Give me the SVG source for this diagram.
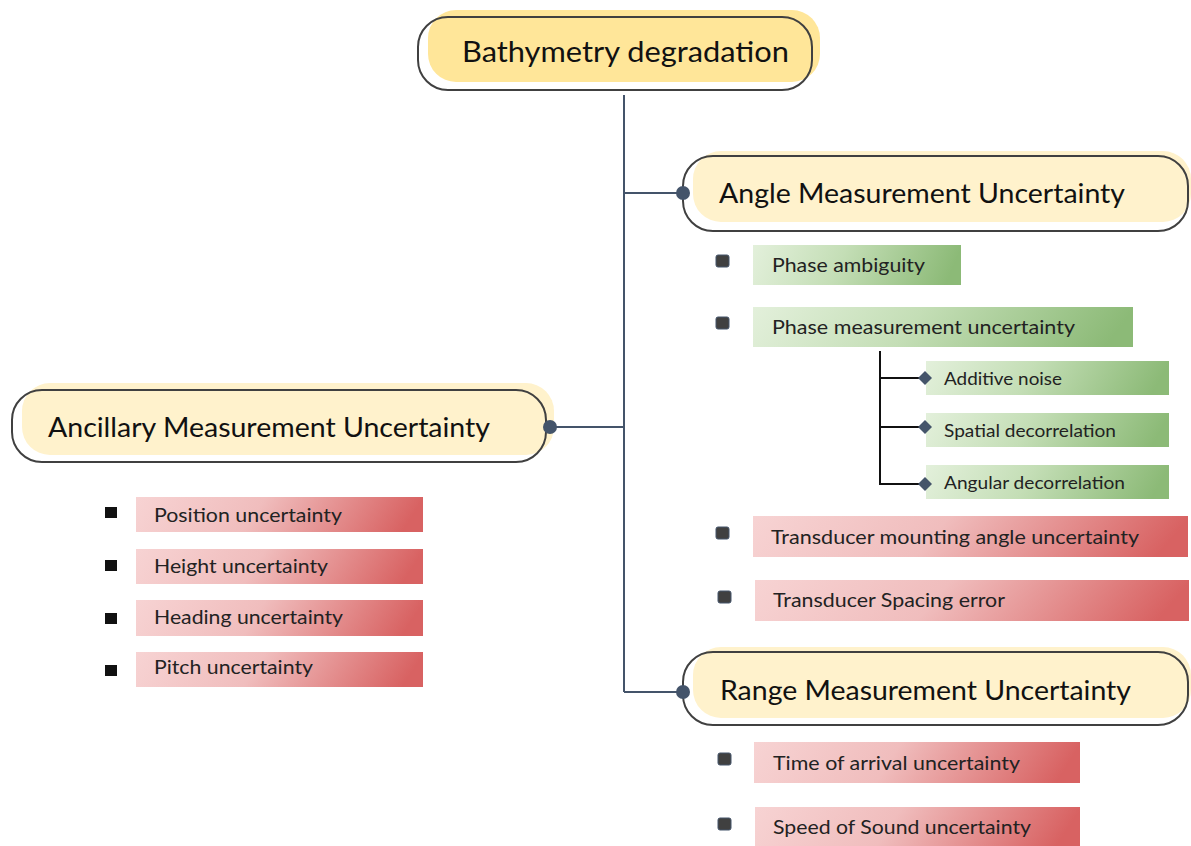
<svg xmlns="http://www.w3.org/2000/svg" width="1191" height="846" viewBox="0 0 1191 846">
<defs>
<linearGradient id="gRed" x1="0" y1="0" x2="1" y2="0.08">
<stop offset="0" stop-color="#F7D3D3"/><stop offset="0.45" stop-color="#F0BDBD"/><stop offset="1" stop-color="#D86262"/>
</linearGradient>
<linearGradient id="gGreen" x1="0" y1="0" x2="1" y2="0.08">
<stop offset="0" stop-color="#E3F0DB"/><stop offset="0.45" stop-color="#C4DEB6"/><stop offset="1" stop-color="#8CBA77"/>
</linearGradient>
<style>
text{font-family:Lato,"Noto Sans","Liberation Sans",sans-serif;fill:#111;}
.main{font-size:26px;}
.root{font-size:28px;}
.item{font-size:19px;fill:#222;}
.sub{font-size:17px;fill:#222;}
.bg{fill:#fff;}
.outline{fill:none;stroke:#404040;stroke-width:2;}
.fillY{fill:#FFF2CC;}
.fillRoot{fill:#FFE699;}
.red{fill:url(#gRed);}
.green{fill:url(#gGreen);}
.bul{fill:#404040;stroke:#44546A;stroke-width:1;}
.bulB{fill:#111;}
.conn{stroke:#44546A;stroke-width:2;fill:none;}
.connB{stroke:#111;stroke-width:2;fill:none;}
.dot{fill:#44546A;}
</style>
</defs>
<rect width="1191" height="846" fill="#fff"/>
<g id="root">
<rect class="bg" x="418" y="17" width="394" height="73" rx="30"/>
<rect class="fillRoot" x="428" y="10" width="392" height="72" rx="28"/>
<rect class="outline" x="418" y="17" width="394" height="73" rx="30"/>
<text class="root" x="462" y="62" textLength="327" lengthAdjust="spacingAndGlyphs">Bathymetry degradation</text>
</g>
<g id="angle">
<rect class="bg" x="683" y="156" width="505" height="75" rx="30"/>
<rect class="fillY" x="693" y="151" width="498" height="71" rx="28"/>
<rect class="outline" x="683" y="156" width="505" height="75" rx="30"/>
<text class="main" x="719" y="203" textLength="406" lengthAdjust="spacingAndGlyphs">Angle Measurement Uncertainty</text>
</g>
<g id="ancillary">
<rect class="bg" x="12" y="390" width="534" height="72" rx="30"/>
<rect class="fillY" x="22" y="383" width="532" height="72" rx="28"/>
<rect class="outline" x="12" y="390" width="534" height="72" rx="30"/>
<text class="main" x="48" y="437" textLength="442" lengthAdjust="spacingAndGlyphs">Ancillary Measurement Uncertainty</text>
</g>
<g id="range">
<rect class="bg" x="683" y="652" width="505" height="73" rx="30"/>
<rect class="fillY" x="693" y="647" width="498" height="71" rx="28"/>
<rect class="outline" x="683" y="652" width="505" height="73" rx="30"/>
<text class="main" x="720" y="700" textLength="411" lengthAdjust="spacingAndGlyphs">Range Measurement Uncertainty</text>
</g>
<g id="phase-ambiguity">
<rect class="bul" x="716" y="255" width="13" height="12" rx="2"/>
<rect class="green" x="753" y="245" width="208" height="40"/>
<text class="item" x="772" y="272" textLength="153" lengthAdjust="spacingAndGlyphs">Phase ambiguity</text>
</g>
<g id="phase-measurement">
<rect class="bul" x="716" y="317" width="13" height="12" rx="2"/>
<rect class="green" x="753" y="307" width="380" height="40"/>
<text class="item" x="772" y="334" textLength="303" lengthAdjust="spacingAndGlyphs">Phase measurement uncertainty</text>
</g>
<g id="additive-noise">
<rect class="green" x="926" y="361" width="243" height="34"/>
<text class="sub" x="944" y="385" textLength="118" lengthAdjust="spacingAndGlyphs">Additive noise</text>
</g>
<g id="spatial-decorrelation">
<rect class="green" x="926" y="413" width="243" height="34"/>
<text class="sub" x="944" y="437" textLength="172" lengthAdjust="spacingAndGlyphs">Spatial decorrelation</text>
</g>
<g id="angular-decorrelation">
<rect class="green" x="926" y="465" width="243" height="34"/>
<text class="sub" x="944" y="489" textLength="181" lengthAdjust="spacingAndGlyphs">Angular decorrelation</text>
</g>
<g id="transducer-mounting">
<rect class="bul" x="716" y="527" width="13" height="12" rx="2"/>
<rect class="red" x="753" y="516" width="435" height="41"/>
<text class="item" x="771" y="544" textLength="368" lengthAdjust="spacingAndGlyphs">Transducer mounting angle uncertainty</text>
</g>
<g id="transducer-spacing">
<rect class="bul" x="718" y="591" width="13" height="12" rx="2"/>
<rect class="red" x="755" y="580" width="434" height="41"/>
<text class="item" x="773" y="607" textLength="232" lengthAdjust="spacingAndGlyphs">Transducer Spacing error</text>
</g>
<g id="time-of-arrival">
<rect class="bul" x="718" y="753" width="13" height="12" rx="2"/>
<rect class="red" x="754" y="742" width="326" height="41"/>
<text class="item" x="773" y="770" textLength="247" lengthAdjust="spacingAndGlyphs">Time of arrival uncertainty</text>
</g>
<g id="speed-of-sound">
<rect class="bul" x="718" y="818" width="13" height="12" rx="2"/>
<rect class="red" x="755" y="807" width="325" height="39"/>
<text class="item" x="773" y="834" textLength="258" lengthAdjust="spacingAndGlyphs">Speed of Sound uncertainty</text>
</g>
<g id="position">
<rect class="bulB" x="105" y="507" width="12" height="11"/>
<rect class="red" x="136" y="497" width="287" height="35"/>
<text class="item" x="154" y="522" textLength="188" lengthAdjust="spacingAndGlyphs">Position uncertainty</text>
</g>
<g id="height">
<rect class="bulB" x="105" y="560" width="12" height="11"/>
<rect class="red" x="136" y="549" width="287" height="35"/>
<text class="item" x="154" y="573" textLength="174" lengthAdjust="spacingAndGlyphs">Height uncertainty</text>
</g>
<g id="heading">
<rect class="bulB" x="105" y="613" width="12" height="11"/>
<rect class="red" x="136" y="600" width="287" height="36"/>
<text class="item" x="154" y="624" textLength="189" lengthAdjust="spacingAndGlyphs">Heading uncertainty</text>
</g>
<g id="pitch">
<rect class="bulB" x="105" y="665" width="12" height="11"/>
<rect class="red" x="136" y="652" width="287" height="35"/>
<text class="item" x="154" y="674" textLength="159" lengthAdjust="spacingAndGlyphs">Pitch uncertainty</text>
</g>
<g id="connectors">
<path class="conn" d="M624 95 V692 M624 193 H683 M550 427 H624 M624 692 H683"/>
<circle class="dot" cx="683" cy="193" r="7"/>
<circle class="dot" cx="550" cy="427" r="7"/>
<circle class="dot" cx="683" cy="692" r="7"/>
<path class="connB" d="M880 351 V484 H921 M880 378 H921 M880 427 H921"/>
<path class="dot" d="M925 371 L932 378 L925 385 L918 378 Z"/>
<path class="dot" d="M925 420 L932 427 L925 434 L918 427 Z"/>
<path class="dot" d="M925 477 L932 484 L925 491 L918 484 Z"/>
</g>
</svg>
